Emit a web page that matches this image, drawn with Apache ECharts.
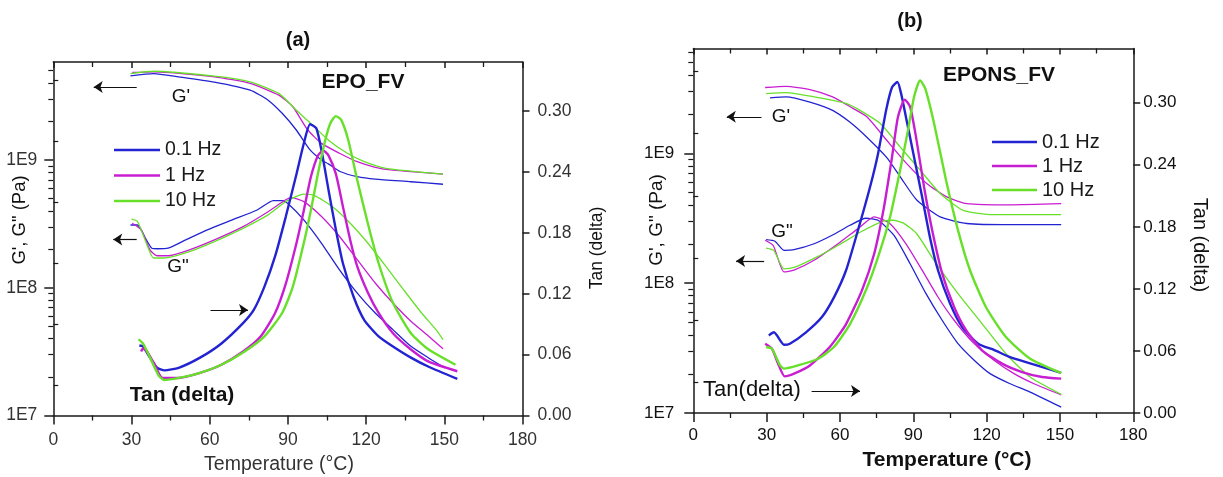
<!DOCTYPE html>
<html><head><meta charset="utf-8">
<script src="https://cdn.jsdelivr.net/npm/echarts@6/dist/echarts.min.js"></script>
<style>html,body{margin:0;padding:0;background:#fff}#c{width:1223px;height:477px}</style>
</head><body><div id="c"></div>
<script>
// ---------- categories / ticks ----------
const freqs = ['0.1 Hz', '1 Hz', '10 Hz'];
const xTicks = [0, 30, 60, 90, 120, 150, 180];
const gMajor = [1e7, 1e8, 1e9];
const gMinorA = [2e7,3e7,4e7,5e7,6e7,7e7,8e7,9e7,2e8,3e8,4e8,5e8,6e8,7e8,8e8,9e8,2e9,3e9,4e9,5e9];
const gMinorB = [2e7,3e7,4e7,5e7,6e7,7e7,8e7,9e7,2e8,3e8,4e8,5e8,6e8,7e8,8e8,9e8,2e9,3e9,4e9,5e9,6e9];
const tanMajor = [0, 0.06, 0.12, 0.18, 0.24, 0.30];
const tanMinor = [0.03, 0.09, 0.15, 0.21, 0.27, 0.33];

// ---------- panel (a) EPO_FV : [T (°C), value] ----------
const aGp01 = [[29.6,4.56e9],[38.5,4.75e9],[48.1,4.48e9],[61.8,4.07e9],[75.5,3.52e9],[82.4,2.94e9],[87.8,2.32e9],[93.3,1.71e9],[98.5,1.20e9],[102.9,1.0e9],[105.5,9.33e8],[110,8.13e8],[116.6,7.41e8],[123.5,7.08e8],[137.2,6.76e8],[149.5,6.46e8]];
const aGp1 = [[30.3,4.84e9],[38.5,4.90e9],[61.8,4.48e9],[75.5,3.98e9],[86.5,3.22e9],[91.9,2.61e9],[97.4,1.74e9],[102.9,1.35e9],[109.8,1.13e9],[116.6,9.70e8],[123.5,8.77e8],[130.3,8.32e8],[149.5,7.76e8]];
const aGp10 = [[29.6,4.75e9],[38.5,4.95e9],[61.8,4.53e9],[75.5,4.09e9],[86.5,3.32e9],[93.3,2.45e9],[98.8,1.93e9],[105.6,1.43e9],[112.5,1.14e9],[119.3,9.70e8],[127.6,8.61e8],[149.5,7.76e8]];
const aGpp01 = [[29.6,3.10e8],[32.3,3.10e8],[35.7,2.37e8],[37.8,2.04e8],[39.9,2.02e8],[44.0,2.04e8],[50.8,2.37e8],[59.1,2.84e8],[68.7,3.40e8],[78.2,4.06e8],[84.4,4.81e8],[87.8,4.81e8],[90.6,4.45e8],[96.1,3.40e8],[102.9,2.23e8],[109.8,1.38e8],[116.6,9.08e7],[123.5,6.34e7],[130.3,4.70e7],[137.2,3.48e7],[144.0,2.82e7],[150.2,2.36e7]];
const aGpp1 = [[30.3,3.20e8],[33.7,2.84e8],[37.1,1.98e8],[39.9,1.78e8],[44.0,1.78e8],[52.2,1.98e8],[61.8,2.37e8],[72.8,3.01e8],[82.4,3.94e8],[89.2,4.88e8],[91.3,5.08e8],[96.1,4.72e8],[102.9,3.61e8],[109.8,2.52e8],[116.6,1.66e8],[123.5,1.09e8],[130.3,7.59e7],[137.2,5.46e7],[144.0,4.17e7],[149.5,3.33e7]];
const aGpp10 = [[30.0,3.44e8],[32.3,3.30e8],[35.7,2.23e8],[38.5,1.71e8],[42.6,1.71e8],[52.2,1.92e8],[61.8,2.30e8],[72.8,2.92e8],[82.4,3.72e8],[89.2,4.72e8],[96.1,5.40e8],[100.2,5.26e8],[107.0,4.32e8],[113.9,3.20e8],[120.7,2.23e8],[127.6,1.47e8],[134.4,9.64e7],[141.3,6.34e7],[146.8,4.70e7],[149.5,3.93e7]];
const aTan01 = [[33.0,0.069],[34.4,0.068],[37.1,0.057],[39.9,0.047],[42.6,0.0445],[48.1,0.047],[56.3,0.057],[64.5,0.071],[72.8,0.091],[76.9,0.104],[81.0,0.127],[85.1,0.157],[89.2,0.196],[93.3,0.238],[96.1,0.268],[98.5,0.287],[100.9,0.283],[102.9,0.261],[105.6,0.222],[108.4,0.183],[111.1,0.150],[115.2,0.117],[119.3,0.094],[124.8,0.078],[130.3,0.068],[137.2,0.057],[144.0,0.048],[155.0,0.036]];
const aTan1 = [[33.7,0.063],[34.4,0.066],[35.7,0.064],[38.5,0.052],[41.9,0.037],[48.1,0.037],[56.3,0.042],[64.5,0.050],[72.8,0.063],[79.6,0.078],[85.1,0.101],[89.2,0.130],[93.3,0.170],[96.1,0.202],[98.8,0.235],[101.5,0.256],[103.6,0.261],[105.6,0.256],[108.4,0.238],[111.1,0.206],[113.9,0.173],[116.6,0.147],[120.7,0.121],[124.8,0.101],[130.3,0.081],[137.2,0.065],[144.0,0.053],[155.0,0.0436]];
const aTan10 = [[32.7,0.075],[34.4,0.071],[37.1,0.057],[40.5,0.039],[42.6,0.035],[48.1,0.037],[56.3,0.042],[64.5,0.050],[72.8,0.062],[81.0,0.078],[87.8,0.101],[91.9,0.127],[96.1,0.170],[98.8,0.202],[101.5,0.238],[104.3,0.271],[106.3,0.288],[108.4,0.295],[110.4,0.2915],[113.2,0.271],[116.6,0.232],[120.7,0.189],[124.8,0.150],[130.3,0.111],[137.2,0.081],[144.0,0.065],[154.3,0.050]];

// ---------- panel (b) EPONS_FV ----------
const bGp01 = [[31.4,2.67e9],[37.9,2.72e9],[47.7,2.48e9],[57.0,2.14e9],[64.0,1.74e9],[71.0,1.33e9],[79.0,9.33e8],[84.6,6.61e8],[91.4,4.37e8],[101.0,3.24e8],[111.9,2.88e8],[130.0,2.82e8],[150.5,2.82e8]];
const bGp1 = [[29.4,3.21e9],[37.9,3.28e9],[47.7,3.09e9],[57.0,2.72e9],[64.0,2.29e9],[71.0,1.91e9],[79.1,1.26e9],[87.3,8.32e8],[95.5,5.85e8],[103.7,4.61e8],[111.9,4.10e8],[130.0,4.01e8],[150.5,4.09e8]];
const bGp10 = [[29.8,2.88e9],[37.9,2.93e9],[49.4,2.72e9],[62.5,2.42e9],[68.2,2.14e9],[76.4,1.70e9],[84.6,1.12e9],[92.8,7.41e8],[101.0,4.90e8],[110.5,3.63e8],[122.6,3.37e8],[150.5,3.37e8]];
const bGpp01 = [[29.8,2.16e8],[33.4,2.10e8],[37.1,1.79e8],[41.2,1.81e8],[49.4,2.01e8],[57.6,2.38e8],[64.1,2.79e8],[70.6,3.16e8],[75.6,3.05e8],[82.1,2.33e8],[88.7,1.41e8],[95.2,8.30e7],[101.8,5.18e7],[108.3,3.42e7],[114.9,2.55e7],[121.4,2.01e7],[129.6,1.68e7],[137.8,1.45e7],[150.5,1.11e7]];
const bGpp1 = [[29.4,2.14e8],[32.7,1.95e8],[37.1,1.22e8],[41.2,1.26e8],[49.4,1.50e8],[59.2,2.01e8],[67.4,2.63e8],[74.0,3.24e8],[80.5,2.87e8],[87.0,2.01e8],[93.6,1.26e8],[100.1,7.82e7],[106.7,5.18e7],[114.9,3.42e7],[123.0,2.55e7],[131.2,2.01e7],[139.4,1.68e7],[150.5,1.38e7]];
const bGpp10 = [[29.8,1.86e8],[33.0,1.78e8],[37.1,1.29e8],[41.2,1.32e8],[49.4,1.55e8],[59.2,1.95e8],[69.0,2.51e8],[78.0,3.02e8],[81.8,3.05e8],[86.0,2.90e8],[91.4,2.40e8],[98.5,1.50e8],[108.3,8.30e7],[118.1,4.88e7],[127.9,2.86e7],[137.8,1.89e7],[150.5,1.39e7]];
const bTan01 = [[30.9,0.075],[33.0,0.078],[37.1,0.066],[39.5,0.067],[46.1,0.078],[52.7,0.093],[57.6,0.112],[62.5,0.138],[67.4,0.177],[72.3,0.2185],[75.6,0.251],[78.9,0.293],[81.3,0.315],[83.5,0.320],[85.0,0.309],[87.0,0.286],[90.3,0.2475],[93.6,0.209],[96.8,0.170],[100.1,0.138],[105.0,0.106],[110.0,0.083],[116.5,0.067],[123.0,0.061],[129.6,0.054],[137.8,0.048],[150.5,0.0387]];
const bTan1 = [[29.4,0.067],[32.2,0.062],[34.7,0.0477],[37.4,0.0354],[41.2,0.038],[47.7,0.046],[55.9,0.064],[62.5,0.086],[69.0,0.1186],[74.0,0.154],[78.0,0.199],[81.3,0.2475],[83.7,0.286],[86.5,0.303],[88.7,0.296],[91.1,0.267],[94.4,0.2185],[97.7,0.177],[101.8,0.135],[106.7,0.1025],[111.6,0.080],[118.1,0.0606],[126.3,0.0477],[134.5,0.0396],[142.7,0.0348],[150.5,0.0332]];
const bTan10 = [[29.8,0.0638],[32.2,0.062],[35.5,0.046],[37.1,0.0429],[42.8,0.046],[51.0,0.0525],[57.6,0.064],[64.1,0.086],[70.6,0.1186],[75.6,0.151],[80.5,0.1895],[84.6,0.2346],[87.8,0.273],[90.3,0.3055],[92.8,0.3216],[94.9,0.3136],[98.5,0.280],[103.4,0.225],[108.3,0.1766],[113.2,0.138],[119.7,0.1025],[127.9,0.0735],[137.8,0.0525],[150.5,0.0387]];

// ---------- styling ----------
const COLORS = ['#2323d2', '#c81ed2', '#68e02a'];
const FONT = 'Liberation Sans, Arial, sans-serif';
const AX = '#1a1a1a';

function xAxes(grid, labelColor, fs, margin) {
  return [
    { gridIndex: grid, type: 'value', position: 'bottom', min: 0, max: 180, interval: 30,
      axisLine: { onZero: false, lineStyle: { color: AX, width: 1.5 } },
      axisTick: { inside: false, length: 9, lineStyle: { color: AX, width: 1.5 } },
      minorTick: { show: true, splitNumber: 2, length: 5, lineStyle: { color: AX, width: 1.3 } },
      splitLine: { show: false },
      axisLabel: { fontSize: fs, color: labelColor, margin: margin, fontFamily: FONT,
        customValues: xTicks } },
    { gridIndex: grid, type: 'value', position: 'top', min: 0, max: 180, interval: 30,
      axisLine: { onZero: false, lineStyle: { color: AX, width: 1.5 } },
      axisTick: { inside: true, length: 6, lineStyle: { color: AX, width: 1.5 } },
      minorTick: { show: true, splitNumber: 2, length: 5, lineStyle: { color: AX, width: 1.3 } },
      splitLine: { show: false }, axisLabel: { show: false } }
  ];
}
function yAxes(grid, gMax, gMinor, tanMax, labelColor, fs, gMargin, tanMargin) {
  return [
    { gridIndex: grid, type: 'log', logBase: 10, position: 'left', min: 1e7, max: gMax,
      axisLine: { onZero: false, lineStyle: { color: AX, width: 1.5 } },
      axisTick: { length: 9, customValues: gMajor, lineStyle: { color: AX, width: 1.5 } },
      splitLine: { show: false }, minorTick: { show: false },
      axisLabel: { customValues: gMajor, fontSize: fs, color: labelColor, margin: gMargin, fontFamily: FONT,
        formatter: v => '1E' + Math.round(Math.log10(v)) } },
    { gridIndex: grid, type: 'log', logBase: 10, position: 'left', min: 1e7, max: gMax,
      axisLine: { show: false },
      axisTick: { length: 5, customValues: gMinor, lineStyle: { color: AX, width: 1.2 } },
      splitLine: { show: false }, axisLabel: { show: false } },
    { gridIndex: grid, type: 'value', position: 'right', min: 0, max: tanMax,
      axisLine: { onZero: false, lineStyle: { color: AX, width: 1.5 } },
      axisTick: { length: 7, customValues: tanMajor, lineStyle: { color: AX, width: 1.5 } },
      splitLine: { show: false },
      axisLabel: { customValues: tanMajor, fontSize: fs, color: labelColor, margin: tanMargin, fontFamily: FONT,
        formatter: v => v.toFixed(2) } },
    { gridIndex: grid, type: 'value', position: 'right', min: 0, max: tanMax,
      axisLine: { show: false },
      axisTick: { length: 5, customValues: tanMinor, lineStyle: { color: AX, width: 1.2 } },
      splitLine: { show: false }, axisLabel: { show: false } }
  ];
}

function line(name, data, xi, yi, ci, width, extra) {
  return Object.assign({
    name: name, type: 'line', data: data, xAxisIndex: xi, yAxisIndex: yi,
    showSymbol: false, symbol: 'none', smooth: 0.2, silent: true,
    lineStyle: { color: COLORS[ci], width: width }, itemStyle: { color: COLORS[ci] },
    z: width > 2 ? 3 : 2
  }, extra || {});
}
function arrowML(from, to) {
  return { markLine: { silent: true, symbol: ['none', 'arrow'], symbolSize: 9, animation: false,
    label: { show: false }, lineStyle: { color: '#111', width: 1.2, type: 'solid' },
    emphasis: { disabled: true },
    data: [[{ coord: from }, { coord: to }]] } };
}

const thin = 1.3, thick = 2.4;
const series = [
  // panel a
  line(freqs[0], aGp01, 0, 0, 0, thin, arrowML([32, 3.72e9], [15.5, 3.72e9])),
  line(freqs[1], aGp1, 0, 0, 1, thin),
  line(freqs[2], aGp10, 0, 0, 2, thin),
  line(freqs[0], aGpp01, 0, 0, 0, thin, arrowML([32, 2.39e8], [23, 2.39e8])),
  line(freqs[1], aGpp1, 0, 0, 1, thin),
  line(freqs[2], aGpp10, 0, 0, 2, thin),
  line(freqs[0], aTan01, 0, 2, 0, thick, arrowML([60.3, 0.104], [74.7, 0.104])),
  line(freqs[1], aTan1, 0, 2, 1, thick),
  line(freqs[2], aTan10, 0, 2, 2, thick),
  // panel b
  line(freqs[0], bGp01, 2, 4, 0, thin, arrowML([27.9, 1.91e9], [13.7, 1.91e9])),
  line(freqs[1], bGp1, 2, 4, 1, thin),
  line(freqs[2], bGp10, 2, 4, 2, thin),
  line(freqs[0], bGpp01, 2, 4, 0, thin, arrowML([29, 1.48e8], [17.5, 1.48e8])),
  line(freqs[1], bGpp1, 2, 4, 1, thin),
  line(freqs[2], bGpp10, 2, 4, 2, thin),
  line(freqs[0], bTan01, 2, 6, 0, thick, arrowML([48.4, 0.0213], [68.2, 0.0213])),
  line(freqs[1], bTan1, 2, 6, 1, thick),
  line(freqs[2], bTan10, 2, 6, 2, thick)
];

function txt(text, x, y, size, opts) {
  opts = opts || {};
  return { type: 'text', x: x, y: y, rotation: opts.rot || 0, silent: true, z: 100,
    style: { text: text, fill: opts.color || '#111', fontSize: size, fontFamily: FONT,
      fontWeight: opts.bold ? 'bold' : 'normal', align: 'center', verticalAlign: 'middle' } };
}

function legendAt(left, top, width, fs, gap) {
  return { orient: 'vertical', icon: 'rect', itemWidth: width, itemHeight: 2.5, itemGap: gap,
    left: left, top: top, selectedMode: false,
    textStyle: { fontSize: fs, color: '#1a1a1a', fontFamily: FONT }, data: freqs };
}

const option = {
  animation: false,
  backgroundColor: '#fff',
  grid: [
    { left: 53.3, top: 62, width: 469.2, height: 353.5 },
    { left: 693.3, top: 48.5, width: 440, height: 364.5 }
  ],
  xAxis: [].concat(xAxes(0, '#333', 17.5, 16), xAxes(1, '#111', 17, 14)),
  yAxis: [].concat(yAxes(0, 5.85e9, gMinorA, 0.3483, '#333', 17.5, 16, 15),
                   yAxes(1, 6.41e9, gMinorB, 0.3524, '#111', 17, 19, 10)),
  legend: [
    legendAt(109, 135, 46, 19.5, 5.5),
    legendAt(987, 127, 45, 20, 4)
  ],
  series: series,
  graphic: [
    // panel a
    txt('(a)', 298, 40, 20, { bold: true }),
    txt('EPO_FV', 363, 82, 21, { bold: true }),
    txt("G'", 181, 97, 19),
    txt('G"', 178, 267, 19),
    txt('Tan (delta)', 182, 395, 21, { bold: true }),
    txt('Temperature (°C)', 279, 465, 19.5, { color: '#333' }),
    txt('G\', G" (Pa)', 20, 220, 18.5, { rot: Math.PI / 2 }),
    txt('Tan (delta)', 597, 248, 17.5, { rot: Math.PI / 2 }),
    // panel b
    txt('(b)', 910, 21, 20, { bold: true }),
    txt('EPONS_FV', 999, 75, 21, { bold: true }),
    txt("G'", 781, 117, 19),
    txt('G"', 782, 232, 19),
    txt('Tan(delta)', 752, 390, 22),
    txt('Temperature (°C)', 947, 460, 21, { bold: true }),
    txt('G\', G" (Pa)', 657, 220, 19, { rot: Math.PI / 2 }),
    txt('Tan (delta)', 1200, 245, 20, { rot: -Math.PI / 2 })
  ]
};

const chart = echarts.init(document.getElementById('c'), null, { renderer: 'canvas' });
chart.setOption(option);
</script>
</body></html>
